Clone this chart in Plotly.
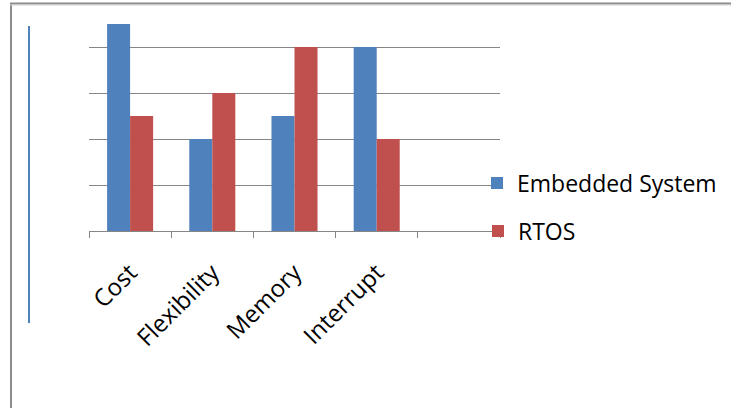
import plotly.graph_objects as go

# Comparison scores per category
categories = ["Cost", "Flexibility", "Memory", "Interrupt"]
embedded_system = [4.5, 2, 2.5, 4]
rtos = [2.5, 3, 4, 2]
slots = categories + [" "]  # trailing empty slot on the category axis

BLUE = "#4F81BD"
RED = "#C0504D"
GRID = "#868686"
FONT = "Open Sans"

W, H = 731, 408
ML, MR, MT, MB = 89, 231, 1, 177
PW, PH = W - ML - MR, H - MT - MB


def px_x(x):
    return (x - ML) / PW


def px_y(y):
    return (H - MB - y) / PH


fig = go.Figure()
fig.add_trace(go.Bar(x=categories, y=embedded_system, name="Embedded System",
                     marker=dict(color=BLUE, line=dict(width=0)),
                     legend="legend", showlegend=True))
fig.add_trace(go.Bar(x=categories, y=rtos, name="RTOS",
                     marker=dict(color=RED, line=dict(width=0)),
                     legend="legend2", showlegend=True))

legend_style = dict(xanchor="left", yanchor="middle", bgcolor="rgba(0,0,0,0)",
                    font=dict(family=FONT, size=23, color="#000000"), borderwidth=0)

fig.update_layout(
    width=W, height=H,
    margin=dict(l=ML, r=MR, t=MT, b=MB, pad=0),
    paper_bgcolor="white", plot_bgcolor="white",
    barmode="group", bargap=0.44, bargroupgap=0,
    showlegend=True,
    font=dict(family=FONT, size=23, color="#000000"),
    xaxis=dict(type="category", categoryorder="array", categoryarray=slots,
               range=[-0.5, 4.5], tickson="boundaries", ticks="outside",
               ticklen=6, tickcolor=GRID, tickwidth=1, showline=True,
               linecolor=GRID, linewidth=1, showgrid=False, tickangle=-45,
               ticklabelstandoff=17,
               tickfont=dict(family=FONT, size=24, color="#000000")),
    yaxis=dict(range=[0, 5], tickvals=[1, 2, 3, 4], showticklabels=False,
               showgrid=True, gridcolor=GRID, gridwidth=1, zeroline=False,
               showline=False, ticks=""),
    legend=dict(x=px_x(477), y=px_y(183), **legend_style),
    legend2=dict(x=px_x(478), y=px_y(231), **legend_style),
    shapes=[
        # outer frame: left and top edges
        dict(type="line", xref="paper", yref="paper", x0=px_x(11), x1=px_x(11),
             y0=px_y(3), y1=px_y(408), line=dict(color="#8C8C8C", width=2)),
        dict(type="line", xref="paper", yref="paper", x0=px_x(10), x1=px_x(731),
             y0=px_y(3.5), y1=px_y(3.5), line=dict(color="#8C8C8C", width=2)),
        dict(type="line", xref="paper", yref="paper", x0=px_x(10), x1=px_x(731),
             y0=px_y(5), y1=px_y(5), line=dict(color="#D0D0D0", width=1)),
        # blue accent bar on the left
        dict(type="line", xref="paper", yref="paper", x0=px_x(29), x1=px_x(29),
             y0=px_y(26), y1=px_y(323), line=dict(color=BLUE, width=2)),
    ],
)

fig.write_html("out.html")
